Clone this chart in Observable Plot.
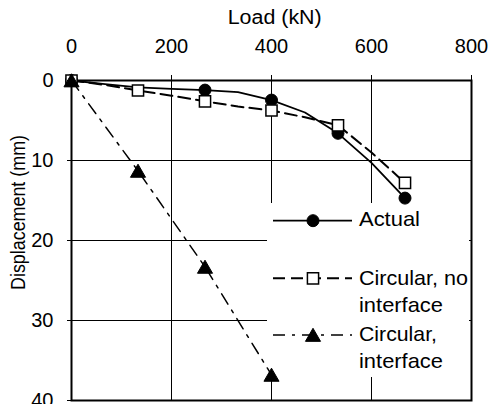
<!DOCTYPE html>
<html><head><meta charset="utf-8">
<script src="https://cdn.jsdelivr.net/npm/d3@7"></script>
<script src="https://cdn.jsdelivr.net/npm/@observablehq/plot@0.6"></script>
<style>
body{margin:0;background:#fff;}
#chart{width:490px;height:404px;overflow:hidden;}
</style>
</head><body><div id="chart"></div>
<script>
// ---- data ----
const xTicks = [0, 200, 400, 600, 800];
const yTicks = [0, 10, 20, 30, 40];
const xLabel = "Load (kN)";
const yLabel = "Displacement (mm)";
const legendLabels = [["Actual"], ["Circular, no", "interface"], ["Circular,", "interface"]];

// Actual: solid line, filled circles
const actualLineLoad = [0, 67, 133, 200, 267, 333, 400, 467, 533, 600, 667];
const actualLineDisp = [0, 0.45, 0.85, 1.05, 1.2, 1.45, 2.45, 4.0, 6.6, 10.3, 14.7];
const actualPtLoad = [0, 267, 400, 533, 667];
const actualPtDisp = [0, 1.2, 2.45, 6.6, 14.7];

// Circular, no interface: dashed line, open squares
const noIfLineLoad = [0, 67, 133, 200, 267, 333, 400, 467, 533, 600, 667];
const noIfLineDisp = [0, 0.55, 1.25, 1.9, 2.6, 3.25, 3.75, 4.6, 5.6, 9.0, 12.8];
const noIfPtLoad = [0, 133, 267, 400, 533, 667];
const noIfPtDisp = [0, 1.25, 2.6, 3.75, 5.6, 12.8];

// Circular, interface: dash-dot line, filled triangles
const ifPtLoad = [0, 133, 267, 400];
const ifPtDisp = [0, 11.3, 23.3, 36.8];

const toRows = (xs, ys) => xs.map((x, i) => ({load: x, disp: ys[i]}));
const actualLine = toRows(actualLineLoad, actualLineDisp);
const actualPts = toRows(actualPtLoad, actualPtDisp);
const noIfLine = toRows(noIfLineLoad, noIfLineDisp);
const noIfPts = toRows(noIfPtLoad, noIfPtDisp);
const ifPts = toRows(ifPtLoad, ifPtDisp);

const FONT = "'Liberation Sans', Arial, sans-serif";
const dashNoIf = "12,6";
const dashIf = "12,7,3,7";

// legend box (pixel layout)
const LB = {x0: 267, x1: 469, y0: 203, y1: 377};

function legendBackground() {
  const g = d3.create("svg:g");
  g.append("rect").attr("x", LB.x0).attr("y", LB.y0)
    .attr("width", LB.x1 - LB.x0).attr("height", LB.y1 - LB.y0)
    .attr("fill", "white");
  return g.node();
}

function legendContent() {
  const g = d3.create("svg:g").attr("font-family", FONT).attr("font-size", 21)
    .attr("fill", "black").attr("text-anchor", "start");
  const lx0 = 273, lx1 = 352, mx = 313, tx = 359;
  const rows = [
    {y: 220.7, dash: null, sw: 1.8, sym: d3.symbolCircle, size: Math.PI * 36, fill: "black", ssw: 1, dy: 0,
     lines: [{t: legendLabels[0][0], b: 226, w: 61}]},
    {y: 278.3, dash: dashNoIf, sw: 2, sym: d3.symbolSquare, size: Math.PI * 6.3 * 6.3, fill: "white", ssw: 1.5, dy: 0,
     lines: [{t: legendLabels[1][0], b: 285, w: 109}, {t: legendLabels[1][1], b: 311.5, w: 84}]},
    {y: 335, dash: dashIf, sw: 1.5, sym: d3.symbolTriangle, size: Math.PI * 5.6 * 5.6, fill: "black", ssw: 1, dy: 2,
     lines: [{t: legendLabels[2][0], b: 340.5, w: 78}, {t: legendLabels[2][1], b: 368, w: 84}]}
  ];
  for (const r of rows) {
    const ln = g.append("line").attr("x1", lx0).attr("x2", lx1).attr("y1", r.y).attr("y2", r.y)
      .attr("stroke", "black").attr("stroke-width", r.sw);
    if (r.dash) ln.attr("stroke-dasharray", r.dash);
    g.append("path").attr("d", d3.symbol(r.sym, r.size)())
      .attr("transform", `translate(${mx},${r.y + r.dy})`)
      .attr("fill", r.fill).attr("stroke", "black").attr("stroke-width", r.ssw);
    for (const l of r.lines) {
      g.append("text").attr("x", tx).attr("y", l.b).attr("text-anchor", "start").text(l.t)
        .attr("textLength", l.w).attr("lengthAdjust", "spacingAndGlyphs");
    }
  }
  return g.node();
}

function axisTitles() {
  const g = d3.create("svg:g").attr("font-family", FONT).attr("fill", "black");
  g.append("text").attr("x", 274.7).attr("y", 24).attr("text-anchor", "middle")
    .attr("font-size", 20).attr("textLength", 94).attr("lengthAdjust", "spacingAndGlyphs").text(xLabel);
  g.append("text").attr("transform", "translate(18,212.5) rotate(-90)").attr("text-anchor", "middle")
    .attr("dy", "0.35em").attr("font-size", 21).attr("textLength", 155)
    .attr("lengthAdjust", "spacingAndGlyphs").text(yLabel);
  return g.node();
}

const chart = Plot.plot({
  width: 490,
  height: 404,
  marginTop: 80,
  marginLeft: 71,
  marginRight: 19,
  marginBottom: 4,
  style: {fontFamily: FONT, fontSize: "20px", background: "white", color: "black", overflow: "visible"},
  x: {domain: [0, 800]},
  y: {domain: [0, 40], reverse: true},
  marks: [
    Plot.gridX({ticks: [200, 400, 600], stroke: "black", strokeOpacity: 1, strokeWidth: 1}),
    Plot.gridY({ticks: [10, 20, 30], stroke: "black", strokeOpacity: 1, strokeWidth: 1}),
    legendBackground,
    Plot.frame({stroke: "black", strokeWidth: 2}),
    Plot.line(actualLine, {x: "load", y: "disp", stroke: "black", strokeWidth: 1.8}),
    Plot.line(noIfLine, {x: "load", y: "disp", stroke: "black", strokeWidth: 2, strokeDasharray: dashNoIf}),
    Plot.line(ifPts, {x: "load", y: "disp", stroke: "black", strokeWidth: 1.5, strokeDasharray: dashIf}),
    Plot.dot(actualPts, {x: "load", y: "disp", r: 6, fill: "black", stroke: "black", strokeWidth: 1}),
    Plot.dot(noIfPts, {x: "load", y: "disp", symbol: "square", r: 6.3, fill: "white", stroke: "black", strokeWidth: 1.5}),
    Plot.dot(ifPts, {x: "load", y: "disp", symbol: "triangle", r: 5.6, dy: 2, fill: "black", stroke: "black", strokeWidth: 1}),
    legendContent,
    Plot.axisX({anchor: "top", ticks: xTicks, tickSize: 6, tickPadding: 22, label: null, tickFormat: d => String(d)}),
    Plot.axisY({anchor: "left", ticks: yTicks, tickSize: 4, tickPadding: 14, label: null, tickFormat: d => String(d)}),
    axisTitles
  ]
});
document.getElementById("chart").appendChild(chart);
</script>
</body></html>
